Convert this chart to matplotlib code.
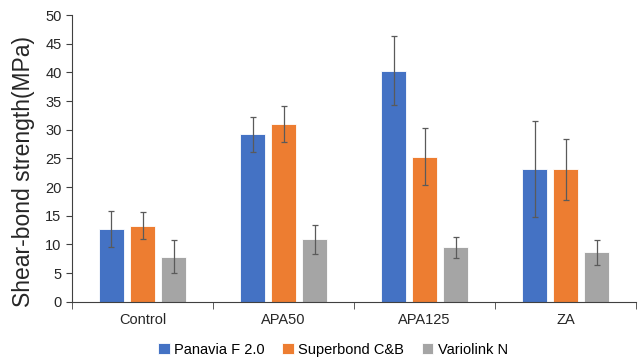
import numpy as np
import matplotlib.pyplot as plt

plt.rcParams['font.family'] = ['Liberation Sans', 'DejaVu Sans']

categories = ['Control', 'APA50', 'APA125', 'ZA']
series = ['Panavia F 2.0', 'Superbond C&B', 'Variolink N']
panavia = [12.7, 29.2, 40.3, 23.2]
panavia_err = [3.2, 3.0, 6.0, 8.4]
superbond = [13.3, 31.0, 25.3, 23.1]
superbond_err = [2.3, 3.2, 5.0, 5.3]
variolink = [7.9, 10.9, 9.5, 8.6]
variolink_err = [2.8, 2.5, 1.8, 2.1]

colors = ['#4472C4', '#ED7D31', '#A5A5A5']

fig = plt.figure(figsize=(6.4, 3.61), dpi=100)
ax = fig.add_axes([0.1125, 0.164, 0.8815, 0.794])

x = np.arange(len(categories))
w = 0.177
step = 0.22
vals = [panavia, superbond, variolink]
errs = [panavia_err, superbond_err, variolink_err]
for i in range(3):
    ax.bar(x + (i - 1) * step, vals[i], w, color=colors[i], edgecolor='white',
           linewidth=0.6, label=series[i],
           yerr=errs[i], error_kw=dict(ecolor='#5a5a5a', elinewidth=0.9, capsize=2, capthick=0.9))

ax.set_xlim(-0.5, len(categories) - 0.5)
ax.set_ylim(0, 50)
ax.set_yticks(range(0, 51, 5))
ax.set_xticks(x)
ax.set_xticklabels(categories, fontsize=10.5)
ax.tick_params(axis='x', length=0, pad=8)
ax.set_xticks(np.arange(-0.5, len(categories), 1), minor=True)
ax.tick_params(axis='x', which='minor', length=5, color='#404040')
ax.tick_params(axis='y', labelsize=10.5, length=4, color='#404040', labelcolor='#262626')
ax.tick_params(axis='x', labelcolor='#262626')

for s in ['top', 'right']:
    ax.spines[s].set_visible(False)
ax.spines['left'].set_color('#404040')
ax.spines['bottom'].set_color('#404040')

ax.set_ylabel('Shear-bond strength(MPa)', fontsize=16.5, color='#262626')
ax.yaxis.set_label_coords(-0.066, 0.455)

fig.legend(loc='lower center', bbox_to_anchor=(0.52, -0.025), ncol=3, frameon=False,
           fontsize=10.5, handlelength=0.8, handleheight=0.8, handletextpad=0.3,
           columnspacing=1.2)

fig.savefig('out.png', dpi=100)
